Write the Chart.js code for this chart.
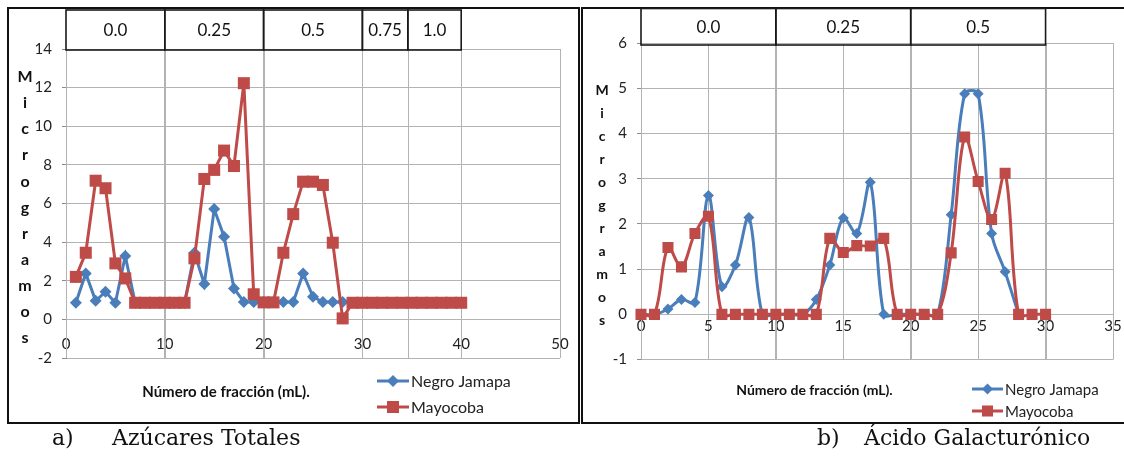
<!DOCTYPE html>
<html>
<head>
<meta charset="utf-8">
<script src="https://cdn.jsdelivr.net/npm/chart.js@4.4.1/dist/chart.umd.min.js"></script>
<style>
  html, body { margin: 0; padding: 0; background: #fff; }
  body { width: 1124px; height: 459px; position: relative; overflow: hidden; font-family: Lato, sans-serif; }
  .panel { position: absolute; border: 2px solid #111; box-sizing: border-box; }
  #panelA { left: 7px; top: 7px; width: 573px; height: 417px; }
  #panelB { left: 581px; top: 7px; width: 560px; height: 417px; }
  canvas { position: absolute; top: 0; }
  #chartA { left: 0; width: 580px; height: 430px; }
  #chartB { left: 580px; width: 544px; height: 430px; }
  .caption { position: absolute; top: 425px; font-family: "DejaVu Serif", serif; font-size: 22px; color: #111; white-space: pre; }
</style>
</head>
<body>
<div class="panel" id="panelA"></div>
<div class="panel" id="panelB"></div>
<canvas id="chartA" width="580" height="430"></canvas>
<canvas id="chartB" width="544" height="430"></canvas>
<div class="caption" style="left:52px">a)</div>
<div class="caption" style="left:112px">Azúcares Totales</div>
<div class="caption" style="left:817px">b)</div>
<div class="caption" style="left:864px">Ácido Galacturónico</div>

<script>
// ---- a) Azúcares totales (µg) por número de fracción ----
const fraccionA = [1, 2, 3, 4, 5, 6, 7, 8, 9, 10, 11, 12, 13, 14, 15, 16, 17, 18, 19, 20,
                   21, 22, 23, 24, 25, 26, 27, 28, 29, 30, 31, 32, 33, 34, 35, 36, 37, 38, 39, 40];
const azucaresNegroJamapa = [0.86, 2.38, 0.96, 1.43, 0.86, 3.28, 0.86, 0.86, 0.86, 0.86,
                             0.86, 0.86, 3.45, 1.83, 5.71, 4.28, 1.60, 0.90, 0.90, 0.90,
                             0.90, 0.90, 0.90, 2.38, 1.17, 0.90, 0.90, 0.90];
const azucaresMayocoba = [2.20, 3.45, 7.18, 6.79, 2.90, 2.12, 0.86, 0.86, 0.86, 0.86,
                          0.86, 0.86, 3.16, 7.27, 7.74, 8.74, 7.94, 12.23, 1.30, 0.88,
                          0.88, 3.45, 5.45, 7.13, 7.13, 6.96, 3.97, 0.05, 0.86, 0.86,
                          0.86, 0.86, 0.86, 0.86, 0.86, 0.86, 0.86, 0.86, 0.86, 0.86];
// Concentración del eluyente (M) y fracciones donde cambia
const molaridadA = ['0.0', '0.25', '0.5', '0.75', '1.0'];
const limitesA = [0, 10, 20, 30, 34.6, 40];

// ---- b) Ácido galacturónico (µg) por número de fracción ----
const fraccionB = [0, 1, 2, 3, 4, 5, 6, 7, 8, 9, 10, 11, 12, 13, 14, 15,
                   16, 17, 18, 19, 20, 21, 22, 23, 24, 25, 26, 27, 28, 29, 30];
const galacturonicoNegroJamapa = [0, 0, 0.12, 0.33, 0.26, 2.63, 0.61, 1.09, 2.14, 0,
                                  0, 0, 0, 0.33, 1.09, 2.13, 1.79, 2.92, 0, 0,
                                  0, 0, 0, 2.20, 4.88, 4.88, 1.79, 0.94, 0];
const galacturonicoMayocoba = [0, 0, 1.48, 1.05, 1.79, 2.17, 0, 0, 0, 0,
                               0, 0, 0, 0, 1.68, 1.37, 1.52, 1.51, 1.68, 0,
                               0, 0, 0, 1.36, 3.92, 2.94, 2.10, 3.12, 0, 0, 0];
const molaridadB = ['0.0', '0.25', '0.5'];
const limitesB = [0, 10, 20, 30];

const variedades = ['Negro Jamapa', 'Mayocoba'];

Chart.defaults.font.family = 'Lato, sans-serif';
Chart.defaults.color = '#222';

function puntos(xs, ys) {
  return ys.map((y, i) => ({ x: xs[i], y: y }));
}

// Tabla de molaridad, título vertical, título del eje X y leyenda
const decoracion = {
  id: 'decoracion',
  beforeDatasetsDraw(chart, args, o) {
    const ctx = chart.ctx, xs = chart.scales.x, a = chart.chartArea;
    ctx.save();
    ctx.strokeStyle = '#b3b3b3';
    ctx.lineWidth = 1;
    o.limites.forEach(v => {
      const x = Math.round(xs.getPixelForValue(v)) + 0.5;
      ctx.beginPath(); ctx.moveTo(x, a.top); ctx.lineTo(x, a.bottom); ctx.stroke();
    });
    ctx.restore();
  },
  afterDraw(chart, args, o) {
    const ctx = chart.ctx, xs = chart.scales.x;
    ctx.save();
    // tabla de molaridad
    ctx.strokeStyle = '#1a1a1a';
    ctx.lineWidth = 1.6;
    ctx.fillStyle = '#111';
    ctx.font = o.tablaFont;
    ctx.textAlign = 'center';
    ctx.textBaseline = 'middle';
    for (let i = 0; i < o.etiquetas.length; i++) {
      const x0 = xs.getPixelForValue(o.limites[i]);
      const x1 = xs.getPixelForValue(o.limites[i + 1]);
      ctx.strokeRect(x0, o.tablaTop, x1 - x0, o.tablaBottom - o.tablaTop);
      ctx.fillText(o.etiquetas[i], (x0 + x1) / 2, (o.tablaTop + o.tablaBottom) / 2 + 1);
    }
    // título vertical, letra por letra
    ctx.font = o.tituloY.font;
    ctx.fillStyle = '#111';
    Array.from(o.tituloY.text).forEach((c, i) => {
      ctx.fillText(c, o.tituloY.x, o.tituloY.y + i * o.tituloY.dy);
    });
    // título del eje X
    ctx.font = o.tituloX.font;
    ctx.fillText(o.tituloX.text, o.tituloX.x, o.tituloX.y);
    // leyenda
    const L = o.leyenda;
    ctx.textAlign = 'left';
    ctx.font = L.font;
    chart.data.datasets.forEach((ds, i) => {
      const y = L.y + i * L.dy;
      ctx.strokeStyle = ds.borderColor;
      ctx.lineWidth = ds.borderWidth;
      ctx.beginPath(); ctx.moveTo(L.x0, y); ctx.lineTo(L.x1, y); ctx.stroke();
      ctx.fillStyle = ds.backgroundColor;
      Chart.helpers.drawPoint(ctx, { pointStyle: ds.pointStyle, radius: ds.pointRadius, borderWidth: 0, rotation: 0 },
                              (L.x0 + L.x1) / 2, y);
      ctx.fillStyle = '#222';
      ctx.fillText(ds.label, L.x1 + 2, y + 1);
    });
    ctx.restore();
  }
};

function serie(label, data, color, style, radius, orden, tension) {
  return {
    label: label, data: data,
    borderColor: color, backgroundColor: color,
    borderWidth: 3, pointStyle: style, pointRadius: radius, pointHoverRadius: radius,
    pointBorderWidth: 0, tension: tension, order: orden, clip: 8
  };
}

function grafica(id, cfg) {
  return new Chart(document.getElementById(id), {
    type: 'line',
    data: {
      datasets: [
        serie(variedades[0], cfg.azul, '#4A7EBB', 'rectRot', cfg.rAzul, 1, cfg.tension),
        serie(variedades[1], cfg.rojo, '#BE4B48', 'rect', cfg.rRojo, 0, cfg.tension)
      ]
    },
    options: {
      responsive: false,
      animation: false,
      events: [],
      layout: { padding: cfg.padding },
      plugins: {
        legend: { display: false },
        tooltip: { enabled: false },
        decoracion: cfg.deco
      },
      scales: {
        x: {
          type: 'linear', min: cfg.xMin, max: cfg.xMax,
          position: { y: 0 },
          // el eje cruza en y = 0: no reserva alto ni márgenes laterales
          afterFit(s) { s.height = 0; s.paddingLeft = 0; s.paddingRight = 0; },
          grid: { color: '#b3b3b3', lineWidth: 1, drawTicks: false },
          border: { color: '#b3b3b3' },
          ticks: { stepSize: cfg.xStep, padding: cfg.xPad, maxRotation: 0, color: '#222',
                   font: { size: cfg.tickSize } }
        },
        y: {
          min: cfg.yMin, max: cfg.yMax,
          afterFit(s) { s.width = cfg.yWidth; },
          grid: { color: '#b3b3b3', lineWidth: 1, tickLength: 4, tickColor: '#8c8c8c' },
          border: { color: '#8c8c8c' },
          ticks: { stepSize: cfg.yStep, padding: 10, color: '#222', font: { size: cfg.tickSize } }
        }
      }
    },
    plugins: [decoracion]
  });
}

grafica('chartA', {
  azul: puntos(fraccionA, azucaresNegroJamapa),
  rojo: puntos(fraccionA, azucaresMayocoba),
  rAzul: 6, rRojo: 8.5, tension: 0,
  padding: { top: 49, right: 20, bottom: 72, left: 0 },
  xMin: 0, xMax: 50, xStep: 10, xPad: 16,
  yMin: -2, yMax: 14, yStep: 2, yWidth: 66, tickSize: 15,
  deco: {
    etiquetas: molaridadA, limites: limitesA,
    tablaTop: 10, tablaBottom: 50, tablaFont: '17px Lato',
    tituloY: { text: 'Microgramos', x: 25, y: 77, dy: 26.1, font: 'bold 16px Lato' },
    tituloX: { text: 'Número de fracción (mL).', x: 226, y: 392, font: 'bold 15px Lato' },
    leyenda: { x0: 377, x1: 409, y: 381, dy: 26, font: '16px Lato' }
  }
});

grafica('chartB', {
  azul: puntos(fraccionB, galacturonicoNegroJamapa),
  rojo: puntos(fraccionB, galacturonicoMayocoba),
  rAzul: 5.5, rRojo: 7.8, tension: 0.35,
  padding: { top: 43, right: 11, bottom: 70.4, left: 0 },
  xMin: 0, xMax: 35, xStep: 5, xPad: 3,
  yMin: -1, yMax: 6, yStep: 1, yWidth: 61, tickSize: 15,
  deco: {
    etiquetas: molaridadB, limites: limitesB,
    tablaTop: 8.5, tablaBottom: 45, tablaFont: '17px Lato',
    tituloY: { text: 'Microgramos', x: 22, y: 90, dy: 23, font: 'bold 14px Lato' },
    tituloX: { text: 'Número de fracción (mL).', x: 234.5, y: 390, font: 'bold 14px Lato' },
    leyenda: { x0: 392, x1: 423, y: 389, dy: 22, font: '15px Lato' }
  }
});
</script>
</body>
</html>
